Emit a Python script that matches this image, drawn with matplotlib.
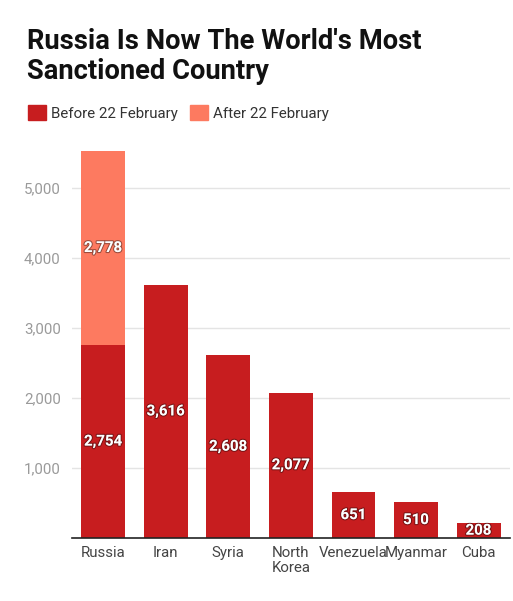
import matplotlib

matplotlib.use("Agg")
import matplotlib.pyplot as plt
import matplotlib.patheffects as pe
from matplotlib.patches import Patch

countries = ["Russia", "Iran", "Syria", "North\nKorea", "Venezuela", "Myanmar", "Cuba"]
before = [2754, 3616, 2608, 2077, 651, 510, 208]
after = [2778, 0, 0, 0, 0, 0, 0]
series_labels = ["Before 22 February", "After 22 February"]
y_ticks = [1000, 2000, 3000, 4000, 5000]

DARK = "#C71D1F"
LIGHT = "#FD7A60"

plt.rcParams["font.family"] = ["Roboto", "DejaVu Sans"]

fig = plt.figure(figsize=(5.13, 6.01), dpi=100)
ax = fig.add_axes([0.14, 0.105, 0.854, 0.652])

x = range(len(countries))
width = 0.70
ax.bar(x, before, width=width, color=DARK, zorder=2)
ax.bar(x, after, width=width, bottom=before, color=LIGHT, zorder=2)

shadow = [pe.withStroke(linewidth=1.6, foreground="#00000060")]
for i, (b, a) in enumerate(zip(before, after)):
    ax.text(i, b / 2, f"{b:,}", ha="center", va="center", color="white",
            fontsize=10.8, fontweight="bold", path_effects=shadow, zorder=3)
    if a > 0:
        ax.text(i, b + a / 2, f"{a:,}", ha="center", va="center", color="white",
                fontsize=10.8, fontweight="bold", path_effects=shadow, zorder=3)

ax.set_xlim(-0.5, len(countries) - 0.5)
ax.set_ylim(0, 5600)
ax.set_yticks(y_ticks)
ax.set_yticklabels([f"{v:,}" for v in y_ticks])
ax.set_xticks(list(x))
ax.set_xticklabels(countries, linespacing=1.05)
ax.tick_params(axis="y", length=0, pad=8, labelsize=10.8, labelcolor="#9a9a9a")
ax.tick_params(axis="x", length=0, pad=6, labelsize=10.8, labelcolor="#444444")
ax.grid(axis="y", color="#e4e4e4", linewidth=1, zorder=0)
for side in ["top", "right", "left"]:
    ax.spines[side].set_visible(False)
ax.spines["bottom"].set_color("#222222")
ax.spines["bottom"].set_linewidth(1.2)
ax.spines["bottom"].set_zorder(4)

fig.text(27 / 513, 1 - 28 / 601, "Russia Is Now The World's Most\nSanctioned Country",
         ha="left", va="top", fontsize=19.7, fontweight="bold", color="#111111",
         linespacing=1.12)

handles = [Patch(color=DARK), Patch(color=LIGHT)]
fig.legend(handles, series_labels, loc="upper left", bbox_to_anchor=(22 / 513, 1 - 99 / 601),
           ncol=2, frameon=False, fontsize=10.8, handlelength=1.2, handleheight=1.2,
           handletextpad=0.35, columnspacing=0.8, labelcolor="#333333", borderaxespad=0)

fig.savefig("out.png", dpi=100)
